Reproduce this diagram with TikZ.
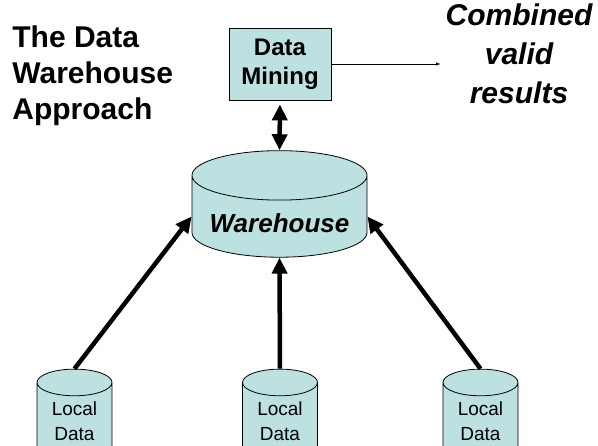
\documentclass[tikz,border=0pt]{standalone}
\usepackage{fontspec}
\setmainfont{Liberation Sans}
\usetikzlibrary{shapes.geometric,arrows.meta}
\definecolor{dbfill}{RGB}{189,224,225}

\begin{document}
\begin{tikzpicture}
[x=1pt,y=-1pt,line width=0.8pt,
db/.style={cylinder,shape border rotate=90,draw,fill=dbfill,inner sep=0},
bigtip/.tip={Triangle[length=16pt,width=15pt]},
bigarrow/.style={-bigtip,line width=4.5pt}]
\useasboundingbox (0,0) rectangle (598,446);
\node[anchor=north west,align=left,inner sep=0,
	font=\fontsize{30}{36}\selectfont\bfseries] (title) at (12,25)
	{The Data\\Warehouse\\Approach};
\node[draw,fill=dbfill,minimum width=102pt,minimum height=72pt,inner sep=0,
	align=center,font=\fontsize{24}{28.8}\selectfont\bfseries] (dm) at (280,64)
	{Data\\Mining};
\node[anchor=north,align=center,inner sep=0,
	font=\fontsize{30}{39}\selectfont\bfseries\itshape] (res) at (519,3)
	{Combined\\valid\\results};
\coordinate (resin) at (440,64);
\node[db,minimum width=175pt,minimum height=101pt,aspect=0.354,
	text height=32pt,text depth=0pt,
	font=\fontsize{26}{31}\selectfont\bfseries\itshape] (wh) at (279.5,216.5)
	{Warehouse};
\foreach \x/\name in {74.5/loc1,280/loc2,480.5/loc3}
	\node[db,minimum width=75pt,minimum height=91pt,aspect=0.587,align=center,
	font=\fontsize{19}{25}\selectfont] (\name) at (\x,421.5) {Local\\Data};
\draw[-{Triangle[length=4pt,width=3pt]},line width=0.6pt] (dm.east) -- (resin);
\draw[bigarrow,bigtip-bigtip,shorten <=4pt] (dm.south) -- (wh.north);
\draw[bigarrow] (loc1.north) -- (wh.west);
\draw[bigarrow] (loc2.north) -- (wh.south);
\draw[bigarrow] (loc3.north) -- (wh.east);
\end{tikzpicture}
\end{document}
